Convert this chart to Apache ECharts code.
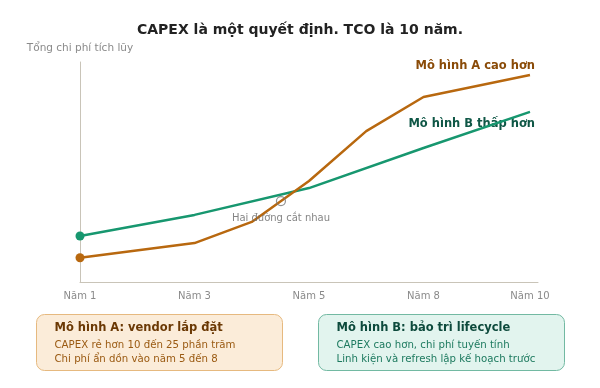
<!DOCTYPE html>
<html>
<head>
<meta charset="utf-8">
<script src="https://cdn.jsdelivr.net/npm/echarts@6/dist/echarts.min.js"></script>
<style>
  html, body { margin: 0; padding: 0; background: #fff; }
  #main { width: 600px; height: 388px; }
</style>
</head>
<body>
<div id="main"></div>
<script>
// x positions on a slot scale (one slot = half the gap between labelled years)
const tickLabels = ['Năm 1', 'Năm 3', 'Năm 5', 'Năm 8', 'Năm 10'];
const tickPos = [0, 2, 4, 6, 7.86];

const modelAX = [0, 2, 3, 4, 5, 6, 7.86];
const modelAY = [11, 17.7, 27.3, 45.9, 68.6, 84.1, 94.1];

const modelBX = [0, 2, 4, 6, 7.86];
const modelBY = [20.9, 30.5, 42.7, 60.9, 77.3];

const crossPoint = [3.51, 36.8];

const font = 'DejaVu Sans';
const orange = '#b8680f';
const green = '#17976f';

function pairs(xs, ys) {
  return xs.map((x, i) => [x, ys[i]]);
}

const chart = echarts.init(document.getElementById('main'));

chart.setOption({
  animation: false,
  textStyle: { fontFamily: font },
  title: {
    text: 'CAPEX là một quyết định. TCO là 10 năm.',
    left: 'center',
    top: 18,
    textStyle: { fontFamily: font, fontSize: 14, fontWeight: 'bold', color: '#222' }
  },
  grid: { left: 80, right: 62, top: 62, bottom: 106 },
  xAxis: {
    type: 'value',
    min: 0,
    max: 8,
    splitLine: { show: false },
    axisLine: { show: true, lineStyle: { color: '#c9c4b8', width: 1 } },
    axisTick: { show: false },
    axisLabel: {
      customValues: tickPos,
      margin: 9,
      color: '#8a8a8a',
      fontSize: 10,
      fontFamily: font,
      formatter: function (v) {
        const i = tickPos.indexOf(v);
        return i >= 0 ? tickLabels[i] : '';
      }
    }
  },
  yAxis: {
    type: 'value',
    min: 0,
    max: 100,
    name: 'Tổng chi phí tích lũy',
    nameLocation: 'end',
    nameGap: 8,
    nameTextStyle: { color: '#8a8a8a', fontSize: 10.5, fontFamily: font, align: 'center' },
    splitLine: { show: false },
    axisLine: { show: true, lineStyle: { color: '#c9c4b8', width: 1 } },
    axisTick: { show: false },
    axisLabel: { show: false }
  },
  series: [
    {
      name: 'Mô hình A',
      type: 'line',
      data: pairs(modelAX, modelAY),
      symbol: 'circle',
      symbolSize: (v, p) => (p.dataIndex === 0 ? 9 : 0),
      showAllSymbol: true,
      lineStyle: { color: orange, width: 2.5 },
      itemStyle: { color: orange },
      z: 3
    },
    {
      name: 'Mô hình B',
      type: 'line',
      data: pairs(modelBX, modelBY),
      symbol: 'circle',
      symbolSize: (v, p) => (p.dataIndex === 0 ? 9 : 0),
      showAllSymbol: true,
      lineStyle: { color: green, width: 2.5 },
      itemStyle: { color: green },
      z: 2
    },
    {
      type: 'scatter',
      data: [crossPoint],
      symbol: 'circle',
      symbolSize: 9,
      itemStyle: { color: 'rgba(0,0,0,0)', borderColor: '#777', borderWidth: 1.2 },
      label: {
        show: true,
        position: 'bottom',
        distance: 7,
        formatter: 'Hai đường cắt nhau',
        color: '#666',
        fontSize: 10,
        fontFamily: font
      },
      z: 4
    }
  ],
  graphic: [
    {
      type: 'text', right: 65, top: 60,
      style: { text: 'Mô hình A cao hơn', fill: '#8a4b08', font: 'bold 11.5px "DejaVu Sans"' }
    },
    {
      type: 'text', right: 65, top: 118,
      style: { text: 'Mô hình B thấp hơn', fill: '#0f5746', font: 'bold 11.5px "DejaVu Sans"' }
    },
    {
      type: 'group', left: 36, top: 314,
      children: [
        { type: 'rect', shape: { x: 0, y: 0, width: 246, height: 56, r: 8 },
          style: { fill: '#fbecd9', stroke: '#e6b97f', lineWidth: 1 } },
        { type: 'text', x: 18, y: 8,
          style: { text: 'Mô hình A: vendor lắp đặt', fill: '#6b3905', font: 'bold 11.5px "DejaVu Sans"' } },
        { type: 'text', x: 18, y: 26,
          style: { text: 'CAPEX rẻ hơn 10 đến 25 phần trăm', fill: '#9a5a12', font: '10.2px "DejaVu Sans"' } },
        { type: 'text', x: 18, y: 40,
          style: { text: 'Chi phí ẩn dồn vào năm 5 đến 8', fill: '#9a5a12', font: '10.2px "DejaVu Sans"' } }
      ]
    },
    {
      type: 'group', left: 318, top: 314,
      children: [
        { type: 'rect', shape: { x: 0, y: 0, width: 246, height: 56, r: 8 },
          style: { fill: '#e2f4ee', stroke: '#72b9a2', lineWidth: 1 } },
        { type: 'text', x: 18, y: 8,
          style: { text: 'Mô hình B: bảo trì lifecycle', fill: '#0d4a3c', font: 'bold 11.5px "DejaVu Sans"' } },
        { type: 'text', x: 18, y: 26,
          style: { text: 'CAPEX cao hơn, chi phí tuyến tính', fill: '#1d7a5f', font: '10.2px "DejaVu Sans"' } },
        { type: 'text', x: 18, y: 40,
          style: { text: 'Linh kiện và refresh lập kế hoạch trước', fill: '#1d7a5f', font: '10.2px "DejaVu Sans"' } }
      ]
    }
  ]
});
</script>
</body>
</html>
